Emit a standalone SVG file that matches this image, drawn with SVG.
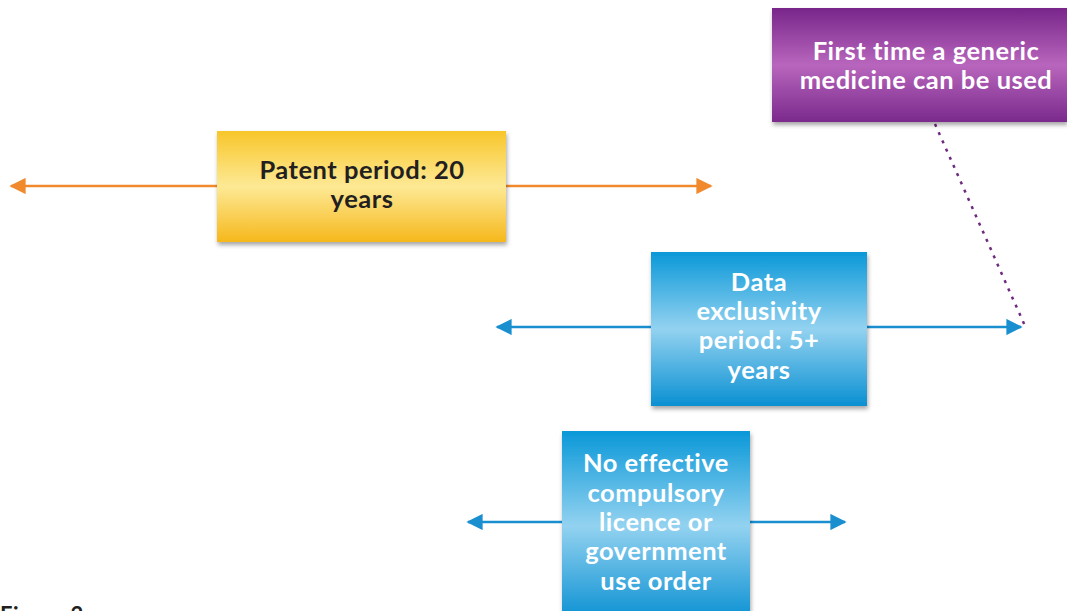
<svg xmlns="http://www.w3.org/2000/svg" width="1067" height="611" viewBox="0 0 1067 611">
<style>
.t{font-family:Lato,"Open Sans","Liberation Sans",sans-serif;font-weight:700;text-anchor:middle;font-variant-ligatures:none;letter-spacing:0.5px}
.w{fill:#ffffff}
.d{fill:#231f20}
.or{stroke:#f08a2c;stroke-width:2.5;fill:none}
.bl{stroke:#1a8fd0;stroke-width:2.5;fill:none}
.dot{stroke:#6e2a7e;stroke-width:2.5;fill:none;stroke-dasharray:3 6}
</style>
<defs>
<linearGradient id="gY" x1="0" y1="0" x2="0" y2="1">
<stop offset="0" stop-color="#f8c62a"/>
<stop offset="0.5" stop-color="#fde995"/>
<stop offset="1" stop-color="#f6b81c"/>
</linearGradient>
<linearGradient id="gB" x1="0" y1="0" x2="0" y2="1">
<stop offset="0" stop-color="#0a98d8"/>
<stop offset="0.5" stop-color="#93d2f0"/>
<stop offset="1" stop-color="#0a90d2"/>
</linearGradient>
<linearGradient id="gP" x1="0" y1="0" x2="0" y2="1">
<stop offset="0" stop-color="#78268a"/>
<stop offset="0.5" stop-color="#b866bd"/>
<stop offset="1" stop-color="#7a2a8c"/>
</linearGradient>
<filter id="sh" x="-5%" y="-5%" width="110%" height="115%">
<feDropShadow dx="1" dy="3" stdDeviation="2" flood-color="#000" flood-opacity="0.35"/>
</filter>
<marker id="aO" viewBox="0 0 10 10" refX="9" refY="5" markerWidth="6.5" markerHeight="6.5" orient="auto-start-reverse" markerUnits="strokeWidth">
<path d="M0,0 L10,5 L0,10 z" fill="#f08a2c"/>
</marker>
<marker id="aB" viewBox="0 0 10 10" refX="9" refY="5" markerWidth="6.5" markerHeight="6.5" orient="auto-start-reverse" markerUnits="strokeWidth">
<path d="M0,0 L10,5 L0,10 z" fill="#1a8fd0"/>
</marker>
</defs>
<rect width="1067" height="611" fill="#ffffff"/>
<g id="connectors">
<line class="or" x1="11" y1="186" x2="711" y2="186" marker-start="url(#aO)" marker-end="url(#aO)"/>
<line class="bl" x1="497" y1="327" x2="1021" y2="327" marker-start="url(#aB)" marker-end="url(#aB)"/>
<line class="bl" x1="468" y1="522" x2="845" y2="522" marker-start="url(#aB)" marker-end="url(#aB)"/>
<line class="dot" x1="935" y1="124" x2="1025" y2="326"/>
</g>
<g id="generic">
<rect x="772" y="8" width="295" height="114" fill="url(#gP)" filter="url(#sh)"/>
<text class="t w" font-size="25.5" x="926" y="60">First time a generic</text>
<text class="t w" font-size="25.5" x="926" y="89">medicine can be used</text>
</g>
<g id="patent">
<rect x="217" y="131" width="289" height="111" fill="url(#gY)" filter="url(#sh)"/>
<text class="t d" font-size="25.5" x="362" y="179">Patent period: 20</text>
<text class="t d" font-size="25.5" x="362" y="208">years</text>
</g>
<g id="data">
<rect x="651" y="252" width="216" height="154" fill="url(#gB)" filter="url(#sh)"/>
<text class="t w" font-size="25.5" x="759" y="291">Data</text>
<text class="t w" font-size="25.5" x="759" y="320">exclusivity</text>
<text class="t w" font-size="25.5" x="759" y="349">period: 5+</text>
<text class="t w" font-size="25.5" x="759" y="379">years</text>
</g>
<g id="licence">
<rect x="562" y="431" width="188" height="190" fill="url(#gB)" filter="url(#sh)"/>
<text class="t w" font-size="25.5" x="656" y="472">No effective</text>
<text class="t w" font-size="25.5" x="656" y="502">compulsory</text>
<text class="t w" font-size="25.5" x="656" y="531">licence or</text>
<text class="t w" font-size="25.5" x="656" y="560">government</text>
<text class="t w" font-size="25.5" x="656" y="590">use order</text>
</g>
<text class="t d" font-size="22" x="0" y="623" style="text-anchor:start">Figure 2</text>
</svg>
